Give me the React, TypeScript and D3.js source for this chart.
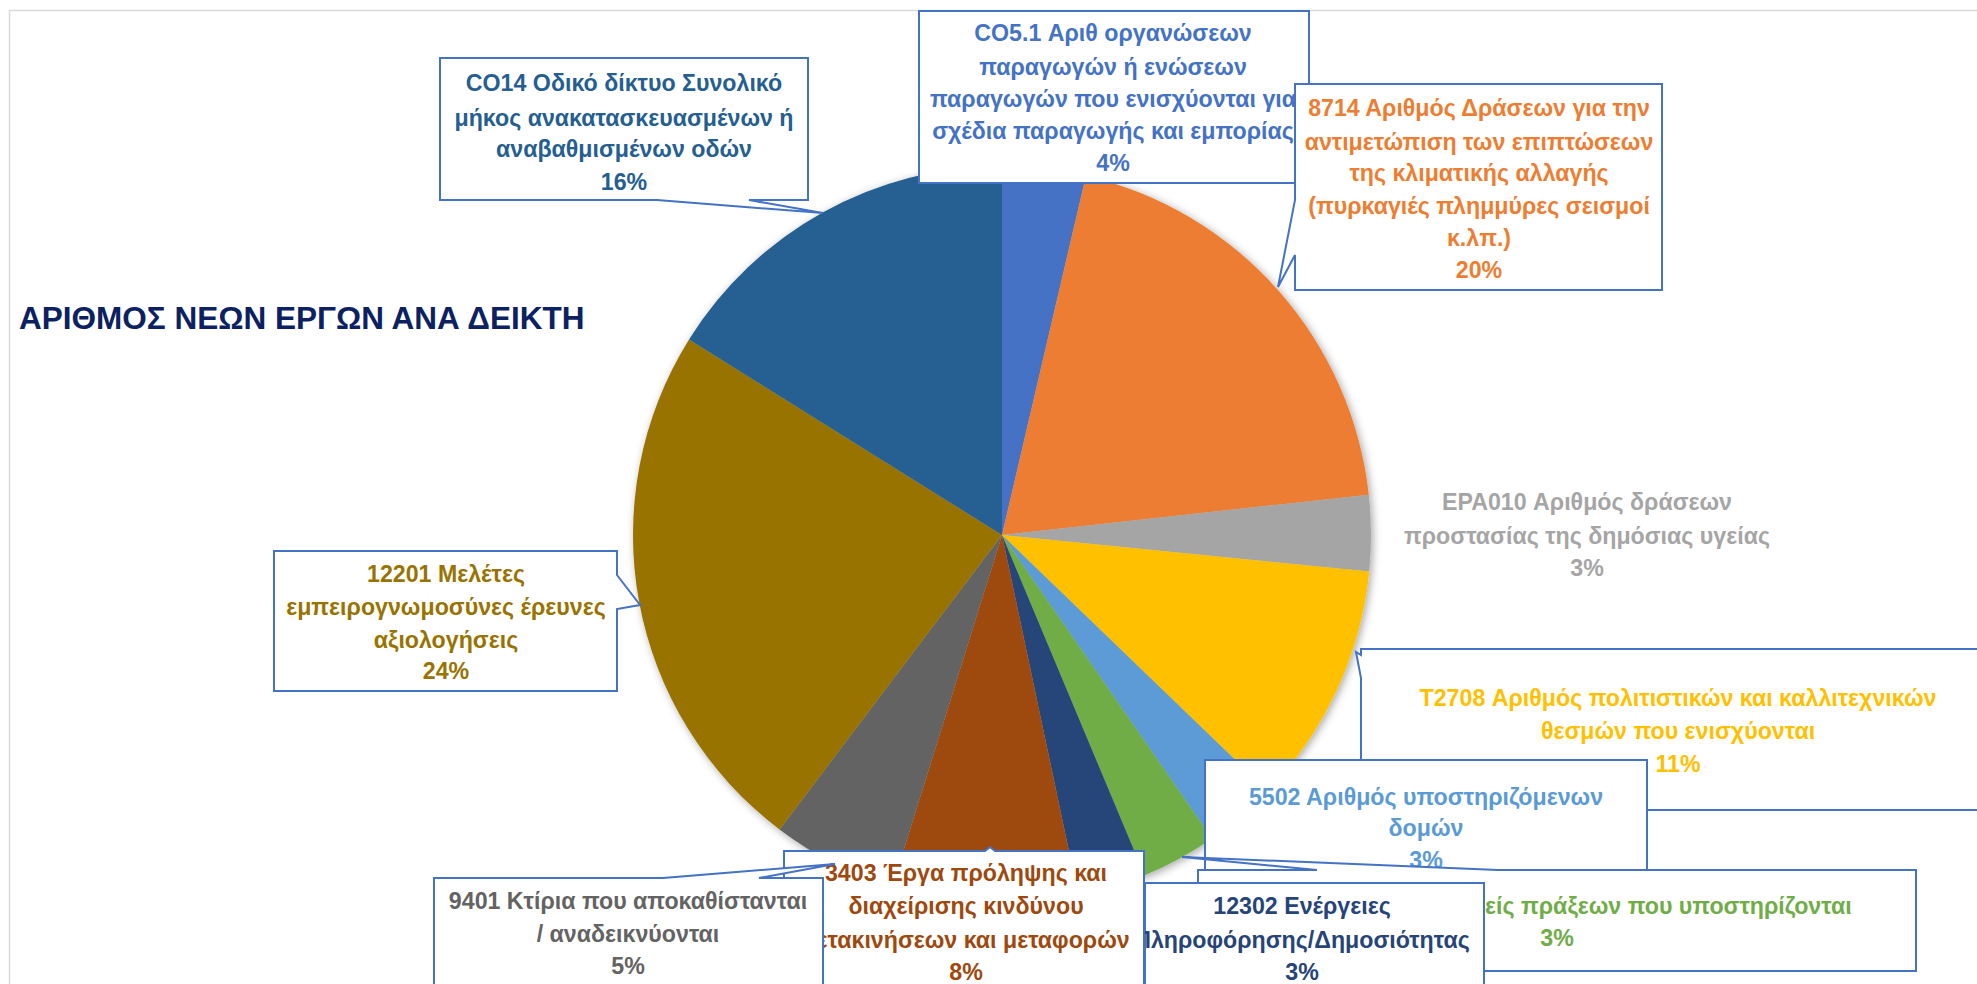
import React from "react";
import * as d3 from "d3";

// ---------- data ----------
const title = "ΑΡΙΘΜΟΣ ΝΕΩΝ ΕΡΓΩΝ ΑΝΑ ΔΕΙΚΤΗ";

const categories = [
  "CO5.1 Αριθ οργανώσεων παραγωγών ή ενώσεων παραγωγών που ενισχύονται για σχέδια παραγωγής και εμπορίας",
  "8714 Αριθμός Δράσεων για την αντιμετώπιση των επιπτώσεων της κλιματικής αλλαγής (πυρκαγιές πλημμύρες σεισμοί κ.λπ.)",
  "EPA010 Αριθμός δράσεων προστασίας της δημόσιας υγείας",
  "T2708 Αριθμός πολιτιστικών και καλλιτεχνικών θεσμών που ενισχύονται",
  "5502 Αριθμός υποστηριζόμενων δομών",
  "Ωφελούμενοι φορείς πράξεων που υποστηρίζονται",
  "12302 Ενέργειες Πληροφόρησης/Δημοσιότητας",
  "3403 Έργα πρόληψης και διαχείρισης κινδύνου μετακινήσεων και μεταφορών",
  "9401 Κτίρια που αποκαθίστανται / αναδεικνύονται",
  "12201 Μελέτες εμπειρογνωμοσύνες έρευνες αξιολογήσεις",
  "CO14 Οδικό δίκτυο Συνολικό μήκος ανακατασκευασμένων ή αναβαθμισμένων οδών",
];

const labelLines: string[][] = [
  ["CO5.1 Αριθ οργανώσεων", "παραγωγών ή ενώσεων", "παραγωγών που ενισχύονται για", "σχέδια παραγωγής και εμπορίας"],
  ["8714 Αριθμός Δράσεων για την", "αντιμετώπιση των επιπτώσεων", "της κλιματικής αλλαγής", "(πυρκαγιές πλημμύρες σεισμοί", "κ.λπ.)"],
  ["EPA010 Αριθμός δράσεων", "προστασίας της δημόσιας υγείας"],
  ["T2708 Αριθμός πολιτιστικών και καλλιτεχνικών", "θεσμών που ενισχύονται"],
  ["5502 Αριθμός υποστηριζόμενων", "δομών"],
  ["Ωφελούμενοι φορείς πράξεων που υποστηρίζονται"],
  ["12302 Ενέργειες", "Πληροφόρησης/Δημοσιότητας"],
  ["3403 Έργα πρόληψης και", "διαχείρισης κινδύνου", "μετακινήσεων και μεταφορών"],
  ["9401 Κτίρια που αποκαθίστανται", "/ αναδεικνύονται"],
  ["12201 Μελέτες", "εμπειρογνωμοσύνες έρευνες", "αξιολογήσεις"],
  ["CO14 Οδικό δίκτυο Συνολικό", "μήκος ανακατασκευασμένων ή", "αναβαθμισμένων οδών"],
];

const values = [22, 118, 20, 64, 19, 20, 18, 49, 33, 142, 97];

const colors = [
  "#4472C4", "#ED7D31", "#A5A5A5", "#FFC000", "#5B9BD5", "#70AD47",
  "#264478", "#9E480E", "#636363", "#997300", "#255E91",
];

// ---------- layout ----------
const W = 1977;
const H = 984;
const CX = 1002;
const CY = 535;
const R = 369;
const FONT = "'Liberation Sans', Arial, sans-serif";
const LABEL_SIZE = 23.2;
const TITLE_SIZE = 31.5;
const BORDER = "#4472C4";

type Callout = { edge: "left" | "right" | "top" | "bottom"; a: number; b: number; tip: [number, number] };
type Layout = { box?: [number, number, number, number]; cx: number; ys: number[]; callout?: Callout };

const layouts: Layout[] = [
  { box: [919, 11, 390, 172], cx: 1113, ys: [33, 67, 99, 131, 163] },
  { box: [1295, 84, 367, 206], cx: 1479, ys: [108, 142, 173, 206, 238, 270],
    callout: { edge: "left", a: 200, b: 255, tip: [1278, 287] } },
  { cx: 1587, ys: [502, 536, 568] },
  { box: [1361, 649, 700, 161], cx: 1678, ys: [698, 731, 764],
    callout: { edge: "left", a: 655, b: 678, tip: [1356, 652] } },
  { box: [1205, 760, 442, 110], cx: 1426, ys: [797, 828, 860] },
  { box: [1198, 870, 718, 101], cx: 1570, ys: [906, 938],
    callout: { edge: "top", a: 1317, b: 1498, tip: [1182, 857] } },
  { box: [1145, 883, 339, 140], cx: 1302, ys: [906, 940, 972] },
  { box: [784, 851, 360, 160], cx: 966, ys: [873, 906, 940, 972],
    callout: { edge: "top", a: 985, b: 995, tip: [990, 847] } },
  { box: [434, 878, 389, 140], cx: 628, ys: [901, 934, 966],
    callout: { edge: "top", a: 663, b: 759, tip: [835, 864] } },
  { box: [274, 551, 343, 140], cx: 446, ys: [574, 607, 640, 671],
    callout: { edge: "right", a: 575, b: 609, tip: [640, 605] } },
  { box: [440, 58, 368, 142], cx: 624, ys: [83, 118, 149, 182],
    callout: { edge: "bottom", a: 657, b: 749, tip: [823, 213] } },
];

const drawOrder = [10, 9, 2, 0, 1, 3, 4, 5, 6, 7, 8];

function boxPath(x: number, y: number, w: number, h: number, c?: Callout) {
  const x2 = x + w;
  const y2 = y + h;
  let p = `M${x},${y}`;
  if (c && c.edge === "top") p += `L${c.a},${y}L${c.tip[0]},${c.tip[1]}L${c.b},${y}`;
  p += `L${x2},${y}`;
  if (c && c.edge === "right") p += `L${x2},${c.a}L${c.tip[0]},${c.tip[1]}L${x2},${c.b}`;
  p += `L${x2},${y2}`;
  if (c && c.edge === "bottom") p += `L${c.b},${y2}L${c.tip[0]},${c.tip[1]}L${c.a},${y2}`;
  p += `L${x},${y2}`;
  if (c && c.edge === "left") p += `L${x},${c.b}L${c.tip[0]},${c.tip[1]}L${x},${c.a}`;
  p += "Z";
  return p;
}

export default function App() {
  const total = d3.sum(values);
  const pie = d3.pie<number>().sort(null).value((d) => d)(values);
  const arc = d3.arc<d3.PieArcDatum<number>>().innerRadius(0).outerRadius(R);
  const pct = (v: number) => `${Math.round((v / total) * 100)}%`;

  return (
    <svg
      width={W}
      height={H}
      style={{ position: "absolute", left: 0, top: 0, display: "block", background: "#fff" }}
      fontFamily={FONT}
    >
      <defs>
        <filter id="pieShadow" x="-20%" y="-20%" width="140%" height="140%">
          <feDropShadow dx="2" dy="2" stdDeviation="4" floodColor="#000" floodOpacity="0.35" />
        </filter>
      </defs>
      <rect x={0} y={0} width={W} height={H} fill="#fff" />
      <rect x={9.5} y={10.5} width={W + 20} height={H + 20} fill="none" stroke="#D9D9D9" strokeWidth={1.5} />

      <text
        x={19}
        y={318}
        dominantBaseline="central"
        fontSize={TITLE_SIZE}
        fontWeight="bold"
        fill="#0B2161"
      >
        {title}
      </text>

      <g transform={`translate(${CX},${CY})`} filter="url(#pieShadow)">
        {pie.map((d, i) => (
          <path key={categories[i]} d={arc(d) || ""} fill={colors[i]} />
        ))}
      </g>

      {drawOrder.map((i) => {
        const L = layouts[i];
        const lines = [...labelLines[i], pct(values[i])];
        return (
          <g key={`lab-${i}`}>
            {L.box && (
              <path
                d={boxPath(L.box[0], L.box[1], L.box[2], L.box[3], L.callout)}
                fill="#fff"
                stroke={BORDER}
                strokeWidth={2}
                strokeLinejoin="miter"
              />
            )}
            {lines.map((t, k) => (
              <text
                key={k}
                x={k === lines.length - 1 && i === 5 ? 1557 : L.cx}
                y={L.ys[k]}
                textAnchor="middle"
                dominantBaseline="central"
                fontSize={LABEL_SIZE}
                fontWeight="bold"
                fill={colors[i]}
              >
                {t}
              </text>
            ))}
          </g>
        );
      })}
    </svg>
  );
}
